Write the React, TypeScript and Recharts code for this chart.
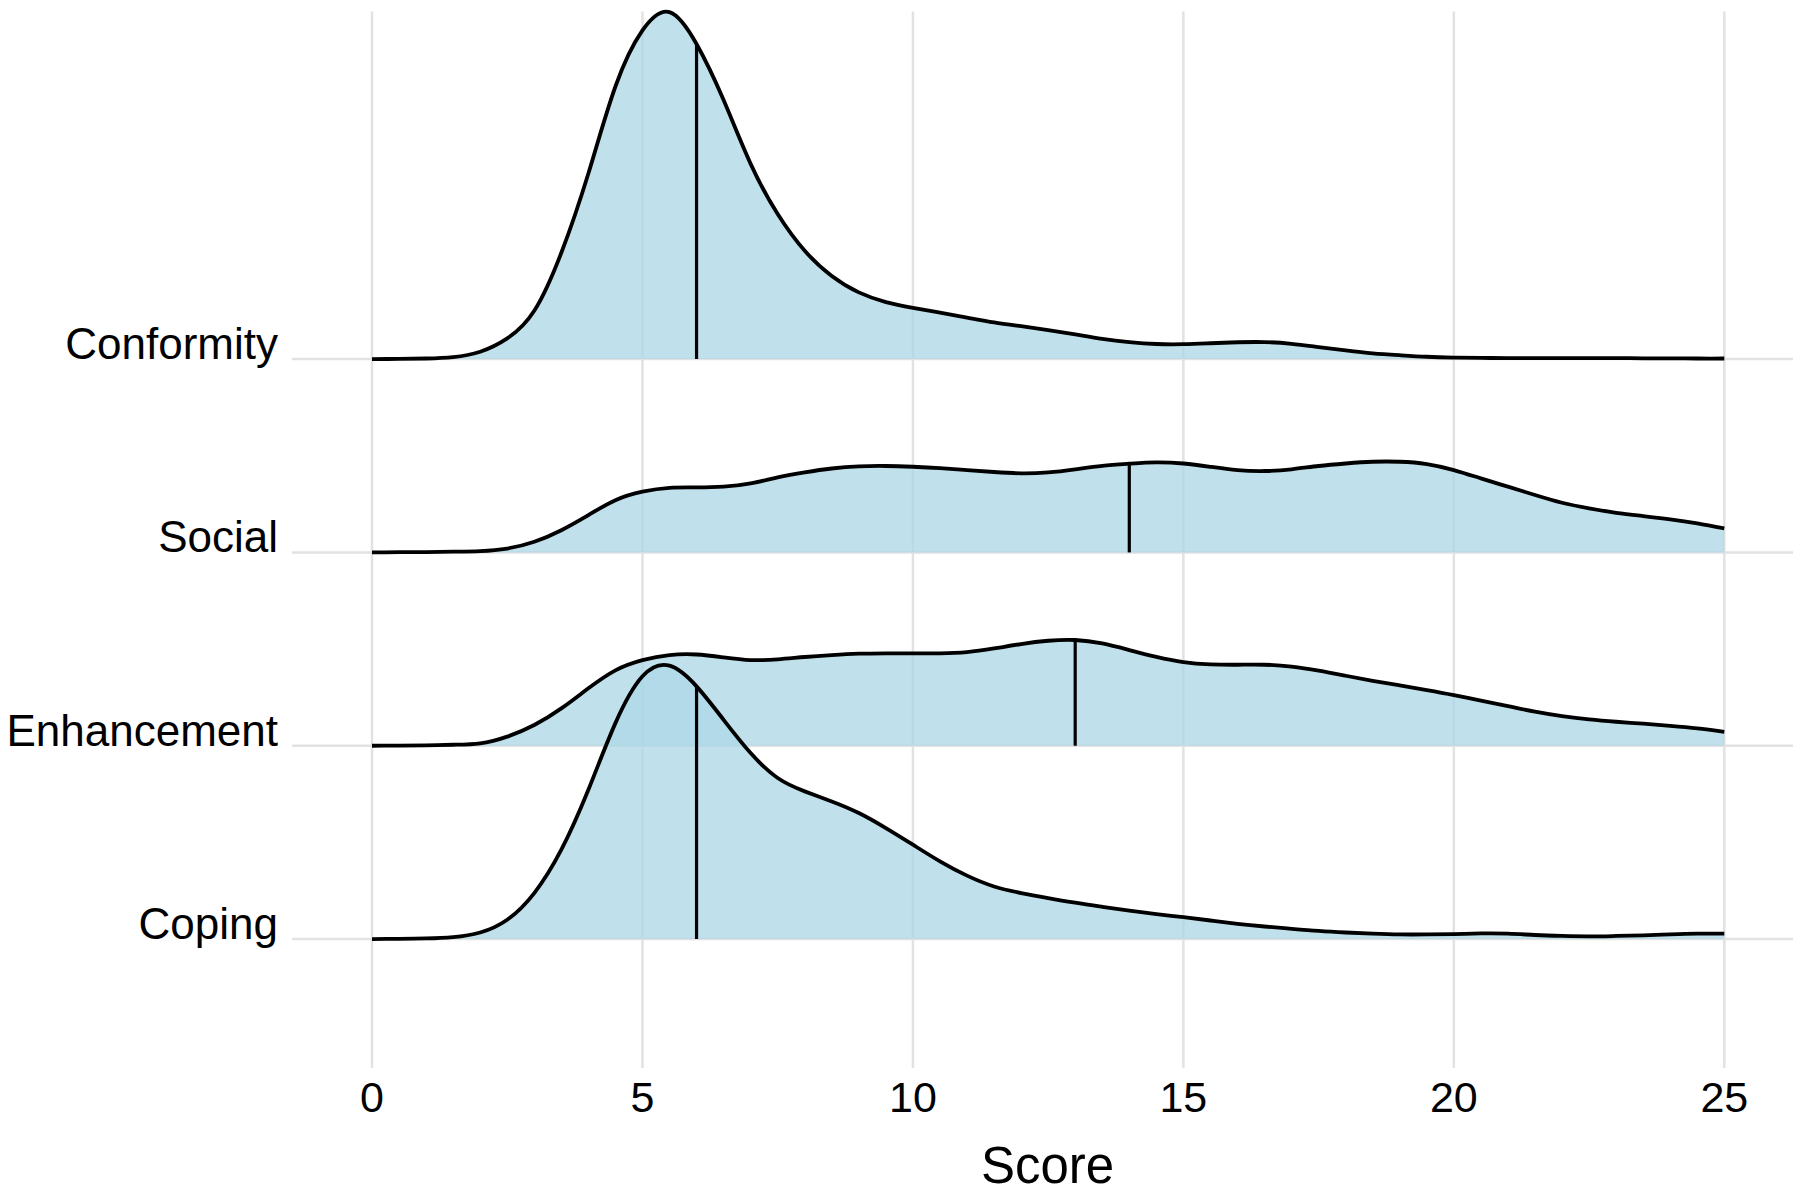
import React from 'react';
import { ComposedChart, Area, Line, XAxis, YAxis, CartesianGrid, ReferenceLine } from 'recharts';

// score grid (x) shared by every ridge
const SCORES = [
  0, 0.5, 1, 1.5, 2, 2.5, 3, 3.5, 4, 4.5, 5, 5.5, 6, 6.5, 7, 7.5, 8, 8.5, 9, 9.5,
  10, 10.5, 11, 11.5, 12, 12.5, 13, 13.5, 14, 14.5, 15, 15.5, 16, 16.5, 17, 17.5, 18, 18.5, 19, 19.5,
  20, 20.5, 21, 21.5, 22, 22.5, 23, 23.5, 24, 24.5, 25,
];

// ridge heights, in units of one row spacing
const CONFORMITY = [
  0, 0.001, 0.003, 0.01, 0.038, 0.107, 0.25, 0.55, 0.96, 1.41, 1.7, 1.795, 1.63, 1.34, 1.01, 0.75, 0.56, 0.43, 0.345, 0.295,
  0.265, 0.24, 0.215, 0.19, 0.17, 0.15, 0.128, 0.105, 0.088, 0.078, 0.077, 0.082, 0.087, 0.088, 0.079, 0.062, 0.045, 0.03, 0.02, 0.012,
  0.008, 0.006, 0.005, 0.005, 0.005, 0.005, 0.005, 0.004, 0.004, 0.003, 0.003,
];
const SOCIAL = [
  0, 0.001, 0.002, 0.004, 0.007, 0.02, 0.055, 0.115, 0.193, 0.27, 0.314, 0.334, 0.336, 0.34, 0.357, 0.388, 0.414, 0.434, 0.445, 0.447,
  0.443, 0.436, 0.426, 0.416, 0.409, 0.414, 0.43, 0.448, 0.459, 0.466, 0.46, 0.443, 0.426, 0.421, 0.43, 0.447, 0.46, 0.469, 0.469, 0.457,
  0.426, 0.383, 0.34, 0.297, 0.257, 0.228, 0.205, 0.188, 0.171, 0.15, 0.124,
];
const ENHANCEMENT = [
  0, 0.001, 0.002, 0.005, 0.012, 0.047, 0.107, 0.193, 0.297, 0.39, 0.443, 0.469, 0.472, 0.457, 0.443, 0.447, 0.459, 0.469, 0.476, 0.478,
  0.478, 0.478, 0.484, 0.503, 0.526, 0.543, 0.547, 0.529, 0.495, 0.46, 0.433, 0.421, 0.419, 0.419, 0.409, 0.388, 0.362, 0.336, 0.312, 0.288,
  0.262, 0.233, 0.205, 0.176, 0.153, 0.136, 0.124, 0.114, 0.103, 0.09, 0.072,
];
const COPING = [
  0, 0.001, 0.003, 0.01, 0.034, 0.1, 0.238, 0.462, 0.772, 1.117, 1.359, 1.414, 1.307, 1.134, 0.962, 0.833, 0.764, 0.712, 0.652, 0.574,
  0.488, 0.402, 0.328, 0.272, 0.238, 0.212, 0.188, 0.167, 0.147, 0.129, 0.113, 0.096, 0.079, 0.065, 0.053, 0.042, 0.034, 0.028, 0.024, 0.024,
  0.026, 0.029, 0.028, 0.021, 0.016, 0.014, 0.016, 0.019, 0.024, 0.028, 0.028,
];

// bottom row first
const MOTIVES = ['Coping', 'Enhancement', 'Social', 'Conformity'];
const MEDIANS = [6, 13, 14, 6];
const X_TICKS = [0, 5, 10, 15, 20, 25];
const ROW_TICKS = [0, 1, 2, 3];

const SERIES = [COPING, ENHANCEMENT, SOCIAL, CONFORMITY];

const rows = SCORES.map((x, i) => {
  const r: any = { x };
  SERIES.forEach((s, k) => {
    r['band' + k] = [k, k + s[i]];
    r['top' + k] = k + s[i];
  });
  return r;
});

const FONT = '"Liberation Sans", Arial, Helvetica, sans-serif';

const XTick = (props: any) => (
  <text x={props.x} y={props.y + 43.5} textAnchor="middle" fontSize={43} fontFamily={FONT} fill="#000">
    {props.payload.value}
  </text>
);

const YTick = (props: any) => (
  <text x={props.x - 14} y={props.y} textAnchor="end" fontSize={44} fontFamily={FONT} fill="#000">
    {MOTIVES[props.payload.value]}
  </text>
);

const ScoreLabel = (props: any) => {
  const vb = props.viewBox;
  return (
    <text x={vb.x + vb.width / 2 + 5} y={vb.y + 115} textAnchor="middle" fontSize={51} fontFamily={FONT} fill="#000">
      Score
    </text>
  );
};

export default function App() {
  // draw top ridge first so lower ridges overlap it
  const order = [3, 2, 1, 0];
  return (
    <div style={{ position: 'absolute', left: 0, top: 0, width: 1800, height: 1195, background: '#fff' }}>
      <ComposedChart width={1800} height={1195} data={rows} margin={{ top: 11.5, right: 7, left: 0, bottom: 0 }}>
        <CartesianGrid
          stroke="#E2E2E2"
          strokeWidth={2.5}
          horizontalValues={ROW_TICKS}
          verticalValues={X_TICKS}
        />
        <XAxis
          dataKey="x"
          type="number"
          domain={[-1.479, 26.27]}
          ticks={X_TICKS}
          axisLine={false}
          tickLine={false}
          tickSize={0}
          tickMargin={0}
          height={127}
          tick={<XTick />}
          label={<ScoreLabel />}
        />
        <YAxis
          type="number"
          domain={[-0.667, 4.798]}
          ticks={ROW_TICKS}
          axisLine={false}
          tickLine={false}
          tickSize={0}
          tickMargin={0}
          width={292}
          tick={<YTick />}
        />
        {order.map((k) => (
          <Area
            key={'a' + k}
            dataKey={'band' + k}
            type="natural"
            stroke="none"
            fill="#ADD8E6"
            fillOpacity={0.77}
            isAnimationActive={false}
            activeDot={false}
          />
        ))}
        {order.map((k) => (
          <Line
            key={'l' + k}
            dataKey={'top' + k}
            type="natural"
            stroke="#000"
            strokeWidth={3.8}
            strokeLinejoin="round"
            dot={false}
            activeDot={false}
            isAnimationActive={false}
          />
        ))}
        {order.map((k) => {
          const m = MEDIANS[k];
          const h = SERIES[k][SCORES.indexOf(m)];
          return (
            <ReferenceLine
              key={'m' + k}
              segment={[{ x: m, y: k }, { x: m, y: k + h }]}
              stroke="#000"
              strokeWidth={3.2}
            />
          );
        })}
      </ComposedChart>
    </div>
  );
}
